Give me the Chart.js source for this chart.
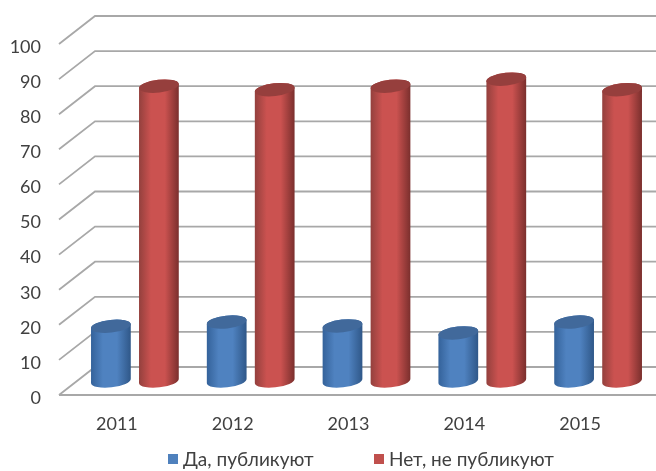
<!DOCTYPE html>
<html>
<head>
<meta charset="utf-8">
<style>
  html, body { margin: 0; padding: 0; background: #fff; }
  canvas { display: block; filter: blur(0.6px); }
</style>
<script src="https://cdn.jsdelivr.net/npm/chart.js@4"></script>
</head>
<body>
<canvas id="chart" width="656" height="471"></canvas>
<script>
const years = ['2011', '2012', '2013', '2014', '2015'];
const yesValues = [15.6, 16.8, 15.7, 13.7, 16.8];
const noValues = [84, 83, 84, 86, 83];
const seriesNames = ['Да, публикуют', 'Нет, не публикуют'];

const FONT = 'Lato, "Open Sans", sans-serif';
const TEXT = '#404040';
const GRID = '#a8a8a8';
// depth of the fake 3D floor
const DX = 36, DY = 28;

const cylColors = [
  { left: '#34629a', right: '#2f5788', mid: '#4f82c0', top: '#41699b', legend: '#4f81bd' },
  { left: '#93403d', right: '#7a2f2d', mid: '#cb5250', top: '#963f3d', legend: '#c0504d' }
];

const wallPlugin = {
  id: 'wall',
  beforeDatasetsDraw(chart) {
    const { ctx, scales: { y }, chartArea, width } = chart;
    ctx.save();
    ctx.strokeStyle = GRID;
    ctx.lineWidth = 1.8;
    y.ticks.forEach(t => {
      const py = y.getPixelForValue(t.value);
      ctx.beginPath();
      ctx.moveTo(chartArea.left, py);
      ctx.lineTo(chartArea.left + DX, py - DY);
      ctx.lineTo(width, py - DY);
      ctx.stroke();
    });
    // front edge of the floor
    const y0 = y.getPixelForValue(0);
    ctx.beginPath();
    ctx.moveTo(chartArea.left, y0);
    ctx.lineTo(width, y0);
    ctx.stroke();
    ctx.restore();
  }
};

const cylinderPlugin = {
  id: 'cylinders',
  afterDatasetsDraw(chart) {
    const { ctx } = chart;
    const ry = 6.4, tilt = -0.11;
    chart.data.datasets.forEach((ds, i) => {
      const c = cylColors[i];
      chart.getDatasetMeta(i).data.forEach(bar => {
        const cx = bar.x + DX / 2;
        const rx = bar.width / 2;
        const yTop = bar.y - DY / 2;
        const yBase = bar.base - DY / 2;
        const grad = ctx.createLinearGradient(cx - rx, 0, cx + rx, 0);
        grad.addColorStop(0, c.left);
        grad.addColorStop(0.3, c.mid);
        grad.addColorStop(0.65, c.mid);
        grad.addColorStop(1, c.right);
        ctx.save();
        ctx.fillStyle = grad;
        ctx.beginPath();
        ctx.ellipse(cx, yBase, rx, ry, tilt, 0, Math.PI);
        ctx.ellipse(cx, yTop, rx, ry, tilt, Math.PI, 2 * Math.PI);
        ctx.closePath();
        ctx.fill();
        ctx.fillStyle = c.top;
        ctx.beginPath();
        ctx.ellipse(cx, yTop, rx, ry, tilt, 0, 2 * Math.PI);
        ctx.fill();
        ctx.restore();
      });
    });
  }
};

// legend sits off centre in the original, so it is drawn by hand
const legendPlugin = {
  id: 'sideLegend',
  afterDraw(chart) {
    const { ctx } = chart;
    const items = [168, 374];
    ctx.save();
    ctx.font = '19px ' + FONT;
    ctx.textBaseline = 'middle';
    seriesNames.forEach((name, i) => {
      ctx.fillStyle = cylColors[i].legend;
      ctx.fillRect(items[i], 454, 10, 10);
      ctx.fillStyle = TEXT;
      ctx.fillText(name, items[i] + 15, 460);
    });
    ctx.restore();
  }
};

new Chart(document.getElementById('chart'), {
  type: 'bar',
  data: {
    labels: years,
    datasets: [
      { label: seriesNames[0], data: yesValues, backgroundColor: 'transparent' },
      { label: seriesNames[1], data: noValues, backgroundColor: 'transparent' }
    ]
  },
  options: {
    responsive: false,
    animation: false,
    layout: { padding: { top: 44, right: 18, left: 0, bottom: 0 } },
    categoryPercentage: 0.829,
    barPercentage: 0.833,
    plugins: {
      legend: { display: false },
      tooltip: { enabled: false }
    },
    scales: {
      x: {
        grid: { display: false },
        border: { display: false },
        ticks: { color: TEXT, font: { family: FONT, size: 18 }, padding: 10, maxRotation: 0 },
        afterFit(scale) { scale.height = 76; }
      },
      y: {
        min: 0,
        max: 100,
        grid: { display: false },
        border: { display: false },
        ticks: { stepSize: 10, color: TEXT, font: { family: FONT, size: 18 }, padding: 10, labelOffset: 3 },
        afterFit(scale) { scale.width = 59; }
      }
    }
  },
  plugins: [wallPlugin, cylinderPlugin, legendPlugin]
});
</script>
</body>
</html>
